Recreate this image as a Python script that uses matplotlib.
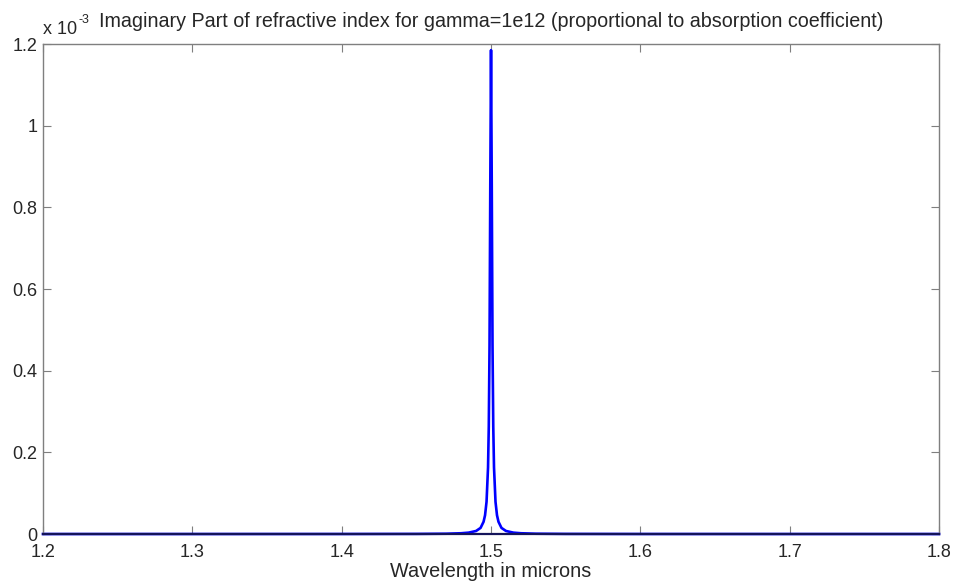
import matplotlib
matplotlib.use('Agg')
import matplotlib.pyplot as plt
from matplotlib.ticker import FuncFormatter

plt.rcParams['font.family'] = ['Liberation Sans', 'DejaVu Sans']

# wavelength in microns and imaginary part of n (in units of 1e-3)
wavelength = [1.20, 1.30, 1.40, 1.45, 1.47, 1.48, 1.485, 1.49, 1.493, 1.495,
              1.496, 1.497, 1.498, 1.4985, 1.499, 1.4995, 1.500, 1.5005, 1.501,
              1.5015, 1.502, 1.503, 1.504, 1.505, 1.507, 1.510, 1.515, 1.520,
              1.530, 1.550, 1.600, 1.700, 1.800]
im_n = [0.0, 0.00002, 0.00008, 0.0003, 0.0008, 0.0019, 0.0034, 0.0075, 0.015, 0.030,
        0.046, 0.079, 0.163, 0.263, 0.462, 0.852, 1.185, 0.852, 0.462,
        0.263, 0.163, 0.079, 0.046, 0.030, 0.015, 0.0075, 0.0034, 0.0019,
        0.0008, 0.0003, 0.00008, 0.00002, 0.0]

x_ticks = [1.2, 1.3, 1.4, 1.5, 1.6, 1.7, 1.8]
y_ticks = [0, 0.2, 0.4, 0.6, 0.8, 1.0, 1.2]

text_col = '#262626'
axis_col = '#7f7f7f'

fig = plt.figure(figsize=(9.58, 5.83), dpi=100)
ax = fig.add_axes([0.0449, 0.084, 0.9353, 0.8405])

ax.plot(wavelength, [v * 1e-3 for v in im_n], color='#0000ff', lw=1.9,
        clip_on=False, zorder=2)

ax.set_xlim(1.2, 1.8)
ax.set_ylim(0, 1.2e-3)
ax.set_xticks(x_ticks)
ax.set_yticks([v * 1e-3 for v in y_ticks])
ax.xaxis.set_major_formatter(FuncFormatter(lambda v, p: '%g' % round(v, 3)))
ax.yaxis.set_major_formatter(FuncFormatter(lambda v, p: '%g' % round(v * 1e3, 3)))

for s in ax.spines.values():
    s.set_color(axis_col)
    s.set_linewidth(1.0)
    s.set_zorder(3)
ax.spines['bottom'].set_color('#14145a')
ax.spines['bottom'].set_linewidth(1.6)

ax.tick_params(direction='in', length=6, width=0.8, color=axis_col,
               top=True, right=True, labelsize=13, labelcolor=text_col)
ax.tick_params(axis='x', pad=7)
ax.tick_params(axis='y', pad=4)

ax.set_xlabel('Wavelength in microns', fontsize=14.3, color=text_col, labelpad=1)
ax.set_title('Imaginary Part of refractive index for gamma=1e12 '
             '(proportional to absorption coefficient)',
             fontsize=14.2, color=text_col, pad=12)

# exponent label, MATLAB style
ax.text(0.0, 1.012, 'x 10', transform=ax.transAxes, fontsize=13,
        color=text_col, ha='left', va='bottom')
ax.text(0.0395, 1.036, '-3', transform=ax.transAxes, fontsize=9,
        color=text_col, ha='left', va='bottom')

fig.savefig('out.png', dpi=100)
